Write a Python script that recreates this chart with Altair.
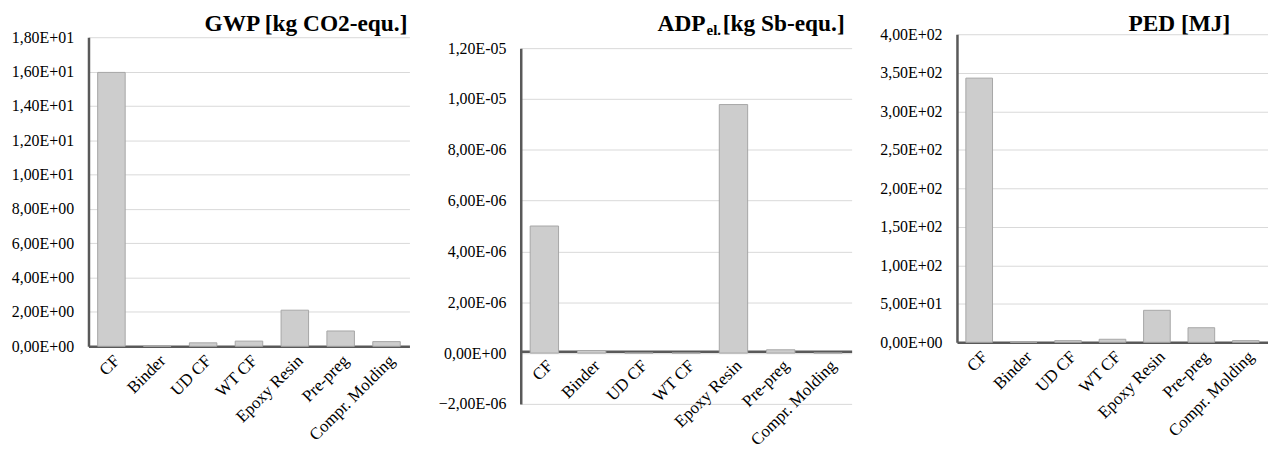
import altair as alt
import pandas as pd

categories = ["CF", "Binder", "UD CF", "WT CF", "Epoxy Resin", "Pre-preg", "Compr. Molding"]
gwp = [15.95, 0.01, 0.2, 0.3, 2.1, 0.89, 0.27]
adp = [5.0e-6, 1.0e-7, 2e-9, 2e-9, 9.78e-6, 1.3e-7, 3e-9]
ped = [343.0, 0.1, 2.2, 3.9, 41.5, 18.9, 2.2]

gwp_ticks = [0, 2, 4, 6, 8, 10, 12, 14, 16, 18]
adp_ticks = [-2e-6, 0, 2e-6, 4e-6, 6e-6, 8e-6, 1e-5, 1.2e-5]
ped_ticks = [0, 50, 100, 150, 200, 250, 300, 350, 400]

FONT = "Liberation Serif"
BAR_FILL = "#cdcdcd"
BAR_STROKE = "#a6a6a6"
LBL = ("replace(replace(upper(format(datum.value, '.2e')), '.', ','), "
       "regexp('[+-](?=[0-9]$)'), '$&0')")


def bars(values, ticks, height, top, x_offset=0):
    df = pd.DataFrame({"cat": categories, "val": values})
    return alt.Chart(df).mark_bar(fill=BAR_FILL, stroke=BAR_STROKE, strokeWidth=1).encode(
        x=alt.X("cat:N", sort=categories, title=None,
                scale=alt.Scale(paddingInner=0.4, paddingOuter=0.2),
                axis=alt.Axis(labelAngle=-45, ticks=False, grid=False,
                              domainColor="#595959", domainWidth=2.5,
                              labelPadding=6, offset=x_offset,
                              labelFont=FONT, labelFontSize=17, labelColor="#000000")),
        y=alt.Y("val:Q", title=None,
                scale=alt.Scale(domain=[ticks[0], ticks[-1]], nice=False, range=[height, top]),
                axis=alt.Axis(values=ticks, labelExpr=LBL, ticks=False,
                              gridColor="#d9d9d9", gridWidth=1,
                              domainColor="#595959", domainWidth=2.5,
                              labelPadding=15, labelFont=FONT, labelFontSize=16,
                              labelColor="#000000")),
    )


def label(text, x, y, size=23.5, align="right"):
    return alt.Chart(pd.DataFrame({"t": [text]})).mark_text(
        font=FONT, fontSize=size, fontWeight="bold", align=align,
        baseline="alphabetic", color="#000000"
    ).encode(x=alt.value(x), y=alt.value(y), text="t:N")


p1 = alt.layer(
    bars(gwp, gwp_ticks, 314, 3),
    label("GWP [kg CO2-equ.]", 321, -3.5),
).properties(width=323, height=314)

p2 = alt.layer(
    bars(adp, adp_ticks, 372, 14, x_offset=-53),
    label("ADP", 186, -3.5),
    label("el.", 187, 0.5, size=15, align="left"),
    label("[kg Sb-equ.]", 326, -3.5),
).properties(width=333, height=372)

p3 = alt.layer(
    bars(ped, ped_ticks, 310, 0),
    label("PED [MJ]", 275, -3.5),
).properties(width=313, height=310)

chart = alt.hconcat(p1, p2, p3, spacing=28).properties(
    padding={"left": 3, "top": 2, "right": 0, "bottom": 0}
).configure(
    background="#ffffff",
    view=alt.ViewConfig(stroke="transparent", strokeWidth=0),
)

chart.save("out.html", embed_options={"renderer": "svg", "actions": False})
